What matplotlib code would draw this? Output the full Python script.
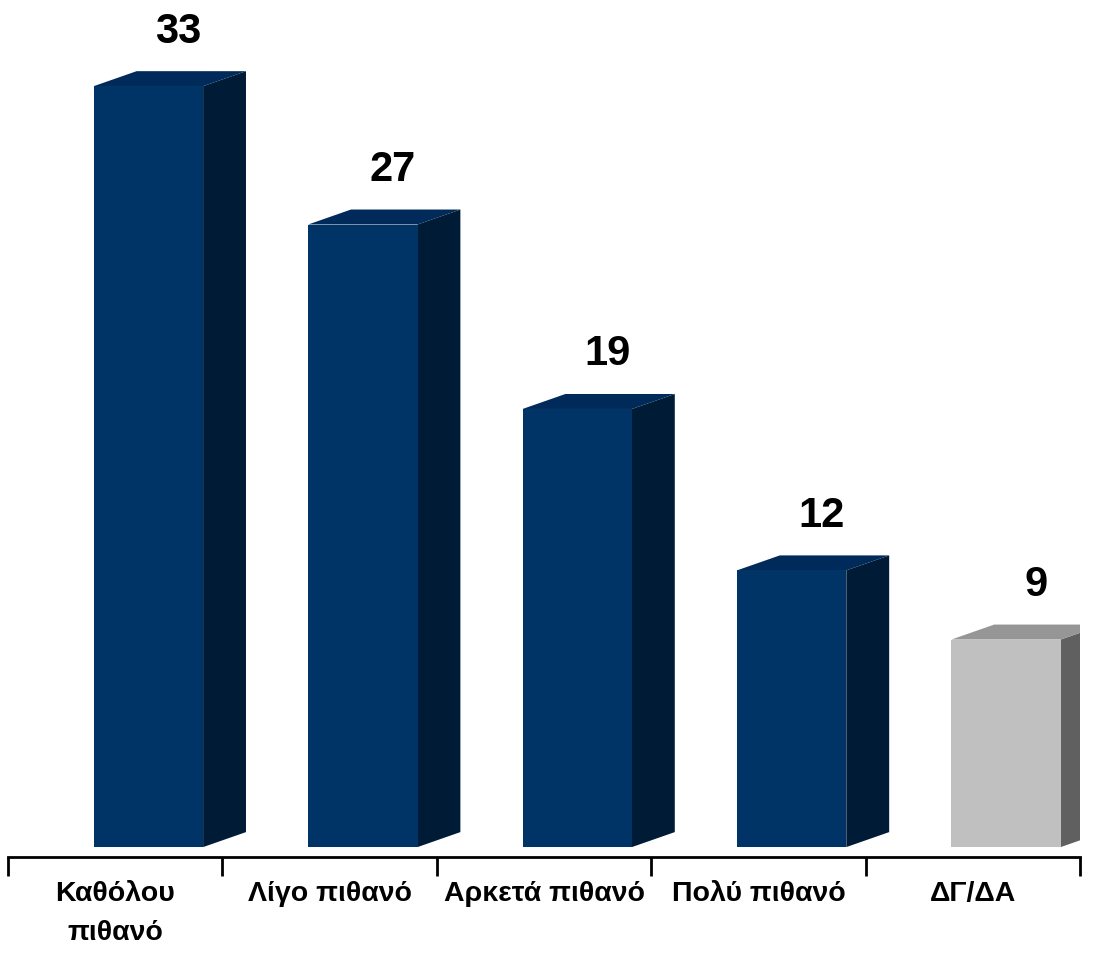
import matplotlib.pyplot as plt
from matplotlib.patches import Polygon, Rectangle
from matplotlib.transforms import blended_transform_factory

categories = ["Καθόλου\nπιθανό", "Λίγο πιθανό", "Αρκετά πιθανό", "Πολύ πιθανό", "ΔΓ/ΔΑ"]
values = [33, 27, 19, 12, 9]

# front / side / top colours per bar
blue = ("#003366", "#001b36", "#002a5a")
grey = ("#c0c0c0", "#606060", "#969696")
bar_colors = [blue, blue, blue, blue, grey]

plt.rcParams['font.family'] = ['Liberation Sans', 'DejaVu Sans']

fig = plt.figure(figsize=(10.96, 9.54), dpi=100)
ax = fig.add_axes([8 / 1096, 96 / 954, 1072 / 1096, 858 / 954])
ax.set_xlim(-0.5, len(values) - 0.5)
ax.set_ylim(-0.43, 36.78)

x_off, width = -0.10, 0.51     # front face relative to category centre
dx, dy = 0.20, 0.65            # depth of the 3d effect

for i, (v, (cf, cs, ct)) in enumerate(zip(values, bar_colors)):
    x0 = i + x_off
    x1 = x0 + width
    ax.add_patch(Polygon([(x1, 0), (x1 + dx, dy), (x1 + dx, v + dy), (x1, v)],
                         closed=True, facecolor=cs, edgecolor="none"))
    ax.add_patch(Polygon([(x0, v), (x0 + dx, v + dy), (x1 + dx, v + dy), (x1, v)],
                         closed=True, facecolor=ct, edgecolor="none"))
    ax.add_patch(Rectangle((x0, 0), width, v, facecolor=cf, edgecolor="none"))
    ax.text(x0 + width / 2 + 0.14, v + 1.93, str(v), ha="center", va="baseline",
            fontsize=30, fontweight="bold", color="black")

for s in ("top", "left", "right"):
    ax.spines[s].set_visible(False)
ax.spines["bottom"].set_linewidth(2)
ax.set_yticks([])

ax.set_xticks([i - 0.5 for i in range(len(values) + 1)])
ax.set_xticklabels([])
ax.tick_params(axis="x", which="major", length=14, width=2, direction="out")

trans = blended_transform_factory(ax.transData, fig.transFigure)
for i, lab in enumerate(categories):
    ax.text(i, 1 - 881 / 954, lab, transform=trans, ha="center", va="top",
            fontsize=20.5, fontweight="bold", linespacing=1.65)

fig.savefig("out.png", dpi=100)
